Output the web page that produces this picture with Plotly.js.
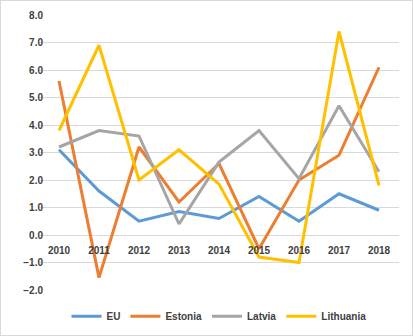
<!DOCTYPE html>
<html><head><meta charset="utf-8">
<script src="https://cdn.plot.ly/plotly-3.0.1.min.js"></script>
<style>html,body{margin:0;padding:0;background:#fff}#c{width:413px;height:336px;box-sizing:border-box;border:1px solid #d9d9d9}</style>
</head><body><div id="c"></div>
<script>
const years = ['2010','2011','2012','2013','2014','2015','2016','2017','2018'];
const eu = [3.1, 1.6, 0.5, 0.85, 0.6, 1.4, 0.5, 1.5, 0.9];
const estonia = [5.6, -1.55, 3.2, 1.2, 2.6, -0.5, 2.0, 2.9, 6.1];
const latvia = [3.2, 3.8, 3.6, 0.4, 2.65, 3.8, 2.05, 4.7, 2.3];
const lithuania = [3.8, 6.9, 2.0, 3.1, 1.85, -0.8, -1.0, 7.4, 1.8];
const yTicks = [-2,-1,0,1,2,3,4,5,6,7,8];

const names = ['EU','Estonia','Latvia','Lithuania'];
const colors = ['#5B9BD5','#ED7D31','#A5A5A5','#FFC000'];
const series = [eu, estonia, latvia, lithuania];
const traces = series.map((s,i)=>({
  x: years, y: s, name: names[i], type:'scatter', mode:'lines',
  line:{color:colors[i], width:3}
}));
const font = {family:'Liberation Sans, Arial, sans-serif', size:10, color:'#404040', weight:'bold'};
Plotly.newPlot('c', traces, {
  width:411, height:334,
  margin:{l:38, r:13, t:14, b:45, autoexpand:false},
  paper_bgcolor:'#fff', plot_bgcolor:'#fff',
  showlegend:true,
  legend:{orientation:'h', x:0.5, xanchor:'center', y:-0.095, yanchor:'middle', font:font, itemwidth:30, traceorder:'normal'},
  xaxis:{type:'category', anchor:'free', position:0.2, showgrid:false, showline:false, zeroline:false, ticks:'', ticklabelstandoff:8, tickfont:font, range:[-0.5,8.5], fixedrange:true},
  yaxis:{range:[-2,8], tickvals:yTicks, tickformat:'.1f', gridcolor:'#d9d9d9', gridwidth:1, zeroline:false, showline:false, ticks:'', ticklen:0, ticklabelstandoff:-5, tickfont:font, fixedrange:true}
}, {displayModeBar:false, staticPlot:true});
</script></body></html>
